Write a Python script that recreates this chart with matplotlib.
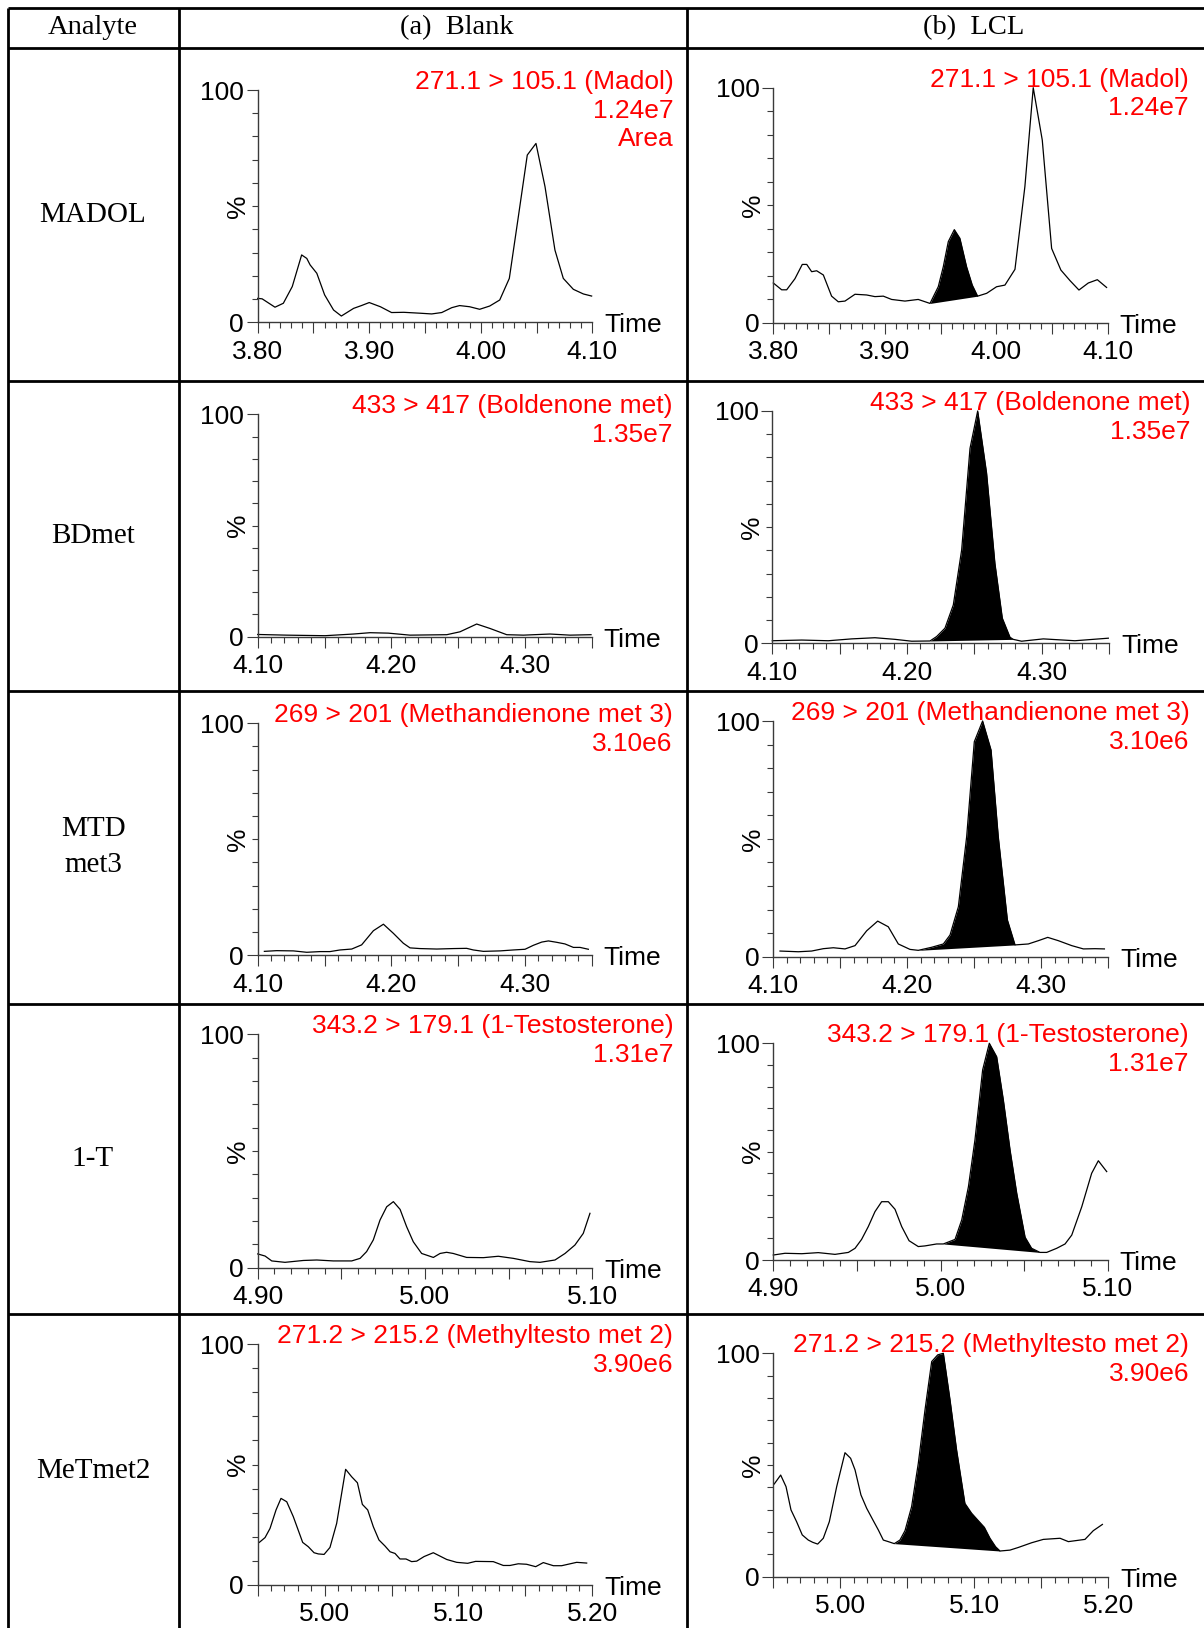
import numpy as np
import matplotlib
matplotlib.use('Agg')
import matplotlib.pyplot as plt
from matplotlib.ticker import FixedLocator, FuncFormatter

plt.rcParams['font.family'] = ['Liberation Sans', 'DejaVu Sans']

# ---- table text ----
headers = ['Analyte', '(a)  Blank', '(b)  LCL']
analytes = ['MADOL', 'BDmet', 'MTD\nmet3', '1-T', 'MeTmet2']
transitions = ['271.1 > 105.1 (Madol)', '433 > 417 (Boldenone met)',
               '269 > 201 (Methandienone met 3)', '343.2 > 179.1 (1-Testosterone)',
               '271.2 > 215.2 (Methyltesto met 2)']
intensities = ['1.24e7', '1.35e7', '3.10e6', '1.31e7', '3.90e6']
blank_extra = ['Area', '', '', '', '']
time_ranges = [(3.80, 4.10), (4.10, 4.35), (4.10, 4.35), (4.90, 5.10), (4.95, 5.20)]

# ---- chromatograms (time min, intensity %) ----
madol_blank_t = [3.800, 3.804, 3.8155, 3.823, 3.831, 3.8394, 3.844, 3.847, 3.853, 3.860, 3.868,
                 3.875, 3.886, 3.893, 3.900, 3.910, 3.920, 3.931, 3.946, 3.956, 3.965, 3.974,
                 3.981, 3.990, 3.999, 4.008, 4.017, 4.0256, 4.0337, 4.0417, 4.0495, 4.0576,
                 4.0665, 4.074, 4.083, 4.092, 4.0994]
madol_blank_y = [10.3, 10.1, 6.5, 8.2, 15.4, 29.0, 27.5, 24.7, 21.1, 11.8, 5.3, 2.7, 6.0, 7.2,
                 8.5, 6.7, 4.2, 4.3, 3.9, 3.6, 4.2, 6.3, 7.2, 6.7, 5.6, 7.0, 9.6, 18.9, 45.5,
                 72.0, 77.0, 58.4, 31.1, 18.9, 14.2, 12.2, 11.3]

madol_lcl_t = [3.800, 3.8075, 3.812, 3.8194, 3.826, 3.830, 3.8344, 3.8389, 3.8449, 3.8523,
               3.8583, 3.8643, 3.8733, 3.8837, 3.8912, 3.8987, 3.9061, 3.9181, 3.9300, 3.9406,
               3.948, 3.9525, 3.957, 3.9624, 3.9674, 3.9734, 3.9785, 3.9833, 3.9914, 4.0003,
               4.0078, 4.0168, 4.0257, 4.0332, 4.0413, 4.0497, 4.058, 4.0662, 4.0742, 4.0826,
               4.0907, 4.099]
madol_lcl_y = [16.9, 14.0, 14.0, 18.7, 24.8, 24.8, 21.7, 22.1, 20.3, 11.3, 8.9, 9.2, 12.1, 11.8,
               11.1, 11.3, 9.9, 9.2, 9.9, 8.2, 15.3, 23.8, 34.5, 39.6, 35.9, 23.8, 16.0, 11.3,
               12.5, 15.3, 16.0, 22.7, 57.9, 100.0, 77.7, 31.6, 22.4, 17.9, 13.9, 16.9, 18.3, 15.0]
madol_lcl_peak = (3.9406, 3.9833)

bd_blank_t = [4.100, 4.1217, 4.1504, 4.1716, 4.1841, 4.1978, 4.214, 4.2415, 4.2514, 4.2639,
              4.2739, 4.2864, 4.2989, 4.3188, 4.3338, 4.3495]
bd_blank_y = [1.0, 0.7, 0.45, 1.2, 1.8, 1.6, 0.7, 0.9, 2.2, 5.7, 3.7, 0.9, 0.7, 1.2, 0.7, 0.9]

bd_lcl_t = [4.100, 4.1218, 4.1416, 4.1589, 4.1762, 4.1911, 4.2035, 4.2171, 4.222, 4.2282,
            4.2344, 4.2406, 4.2468, 4.2525, 4.2591, 4.2653, 4.2708, 4.2765, 4.2789, 4.2851,
            4.3012, 4.3247, 4.3495]
bd_lcl_y = [1.1, 1.4, 1.1, 1.9, 2.4, 1.7, 0.9, 1.0, 2.9, 6.5, 16.5, 40.2, 83.9, 100.0, 73.3,
            34.4, 10.8, 2.6, 1.7, 0.9, 1.9, 1.1, 2.2]
bd_lcl_peak = (4.2171, 4.2789)

mtd_blank_t = [4.105, 4.1142, 4.1267, 4.1367, 4.1467, 4.1541, 4.1616, 4.1704, 4.1778, 4.1866,
               4.1941, 4.2015, 4.209, 4.214, 4.2215, 4.234, 4.2465, 4.2564, 4.2614, 4.2689,
               4.2814, 4.2914, 4.3001, 4.3063, 4.3126, 4.3176, 4.3238, 4.33, 4.3363, 4.3413,
               4.3475]
mtd_blank_y = [1.7, 2.0, 1.9, 1.3, 1.6, 1.6, 2.3, 2.7, 4.5, 10.6, 13.4, 9.5, 5.2, 3.2, 2.9,
               2.7, 2.9, 3.0, 2.3, 1.7, 1.9, 2.3, 2.6, 4.3, 5.7, 6.2, 5.6, 4.9, 3.4, 3.4, 2.6]

mtd_lcl_t = [4.105, 4.1187, 4.1286, 4.1373, 4.1448, 4.1535, 4.161, 4.1697, 4.1779, 4.1858,
             4.1933, 4.202, 4.2082, 4.2182, 4.2269, 4.2319, 4.2381, 4.2443, 4.25, 4.2562,
             4.2625, 4.2679, 4.2747, 4.2804, 4.2903, 4.2978, 4.3048, 4.3127, 4.3227, 4.3314,
             4.3401, 4.3471]
mtd_lcl_y = [2.4, 2.1, 2.4, 3.4, 3.8, 3.3, 4.7, 11.0, 15.1, 12.7, 5.4, 3.1, 2.7, 4.0, 5.4,
             9.2, 21.2, 50.9, 91.2, 100.0, 87.7, 50.9, 15.6, 5.0, 5.4, 6.8, 8.2, 6.8, 4.7,
             3.3, 3.4, 3.3]
mtd_lcl_peak = (4.2082, 4.2804)

t1_blank_t = [4.900, 4.9044, 4.9084, 4.9163, 4.9273, 4.9353, 4.9452, 4.9562, 4.9612, 4.9651,
              4.9691, 4.9731, 4.9771, 4.9811, 4.9851, 4.989, 4.993, 4.998, 5.005, 5.009,
              5.0129, 5.0169, 5.0249, 5.0349, 5.0438, 5.0528, 5.0627, 5.0687, 5.0777, 5.0837,
              5.0896, 5.0946, 5.0986]
t1_blank_y = [5.9, 5.0, 2.9, 2.3, 3.1, 3.3, 2.9, 2.9, 4.0, 6.9, 11.9, 20.4, 26.1, 28.3, 25.0,
              17.6, 11.1, 6.1, 4.4, 6.1, 6.6, 6.1, 4.4, 4.3, 4.9, 4.0, 2.6, 2.3, 3.3, 6.1,
              9.7, 14.7, 23.3]

t1_lcl_t = [4.900, 4.907, 4.917, 4.9269, 4.9369, 4.9449, 4.9489, 4.9528, 4.9568, 4.9608,
            4.9648, 4.9688, 4.9728, 4.9768, 4.9812, 4.9867, 4.9907, 4.9977, 5.0017, 5.0087,
            5.0127, 5.0167, 5.0206, 5.0252, 5.0292, 5.0336, 5.0376, 5.0416, 5.0456, 5.0506,
            5.0545, 5.0595, 5.0635, 5.0695, 5.0745, 5.0785, 5.0845, 5.0904, 5.0944, 5.0994]
t1_lcl_y = [2.3, 3.1, 2.9, 3.4, 2.6, 3.5, 5.4, 9.5, 15.4, 22.3, 26.9, 26.9, 23.4, 15.4, 8.9,
            6.2, 6.5, 7.4, 7.4, 9.5, 18.5, 33.8, 55.4, 87.7, 100.0, 93.8, 73.8, 50.8, 30.8,
            10.5, 5.4, 3.5, 3.5, 5.4, 7.4, 11.5, 24.6, 40.0, 45.8, 40.8]
t1_lcl_peak = (5.0017, 5.0595)

met_blank_t = [4.9512, 4.9555, 4.9592, 4.9637, 4.9674, 4.9717, 4.9766, 4.9836, 4.9878, 4.9921,
               4.9953, 4.9996, 5.004, 5.009, 5.0157, 5.0202, 5.0245, 5.0282, 5.0322, 5.0364,
               5.0406, 5.0451, 5.0489, 5.0526, 5.0563, 5.0608, 5.065, 5.0688, 5.0743, 5.0812,
               5.0912, 5.0987, 5.1069, 5.1128, 5.126, 5.1335, 5.1385, 5.1447, 5.1509, 5.1577,
               5.1634, 5.1709, 5.1771, 5.1883, 5.1958]
met_blank_y = [17.6, 19.6, 23.4, 31.1, 35.9, 34.5, 28.3, 17.6, 15.8, 13.3, 12.8, 12.6, 15.5,
               25.5, 48.0, 44.9, 42.4, 33.4, 31.1, 24.1, 18.6, 16.1, 13.7, 13.0, 10.7, 10.7,
               9.6, 9.8, 11.7, 13.3, 10.5, 9.3, 8.9, 9.7, 9.6, 8.0, 8.0, 8.7, 8.5, 7.5, 9.2,
               7.9, 7.9, 9.3, 9.0]

met_lcl_t = [4.9507, 4.9555, 4.9595, 4.9632, 4.9674, 4.9716, 4.9761, 4.9794, 4.9831, 4.9873,
             4.9918, 4.9973, 5.0035, 5.0077, 5.011, 5.0154, 5.0197, 5.0246, 5.0284, 5.0321,
             5.0358, 5.0403, 5.0445, 5.0483, 5.0532, 5.0582, 5.0632, 5.0682, 5.0727, 5.0769,
             5.0819, 5.0868, 5.093, 5.098, 5.1025, 5.1075, 5.1117, 5.1159, 5.1192, 5.1266,
             5.1329, 5.1428, 5.1515, 5.164, 5.1702, 5.1826, 5.1888, 5.1956]
met_lcl_y = [41.5, 45.5, 40.3, 29.9, 24.6, 18.7, 16.4, 15.4, 14.6, 17.2, 24.6, 40.3, 55.5,
             53.0, 47.8, 36.6, 30.6, 25.1, 20.9, 16.4, 15.7, 14.8, 16.4, 20.6, 31.3, 50.7,
             74.6, 96.3, 99.3, 100.0, 79.1, 56.7, 32.8, 28.4, 25.4, 22.1, 17.2, 13.4, 11.5,
             11.9, 13.1, 15.2, 16.7, 17.2, 15.7, 16.7, 20.6, 23.4]
met_lcl_peak = (5.0403, 5.1192)

blank_series = [(madol_blank_t, madol_blank_y), (bd_blank_t, bd_blank_y),
                (mtd_blank_t, mtd_blank_y), (t1_blank_t, t1_blank_y),
                (met_blank_t, met_blank_y)]
lcl_series = [(madol_lcl_t, madol_lcl_y, madol_lcl_peak), (bd_lcl_t, bd_lcl_y, bd_lcl_peak),
              (mtd_lcl_t, mtd_lcl_y, mtd_lcl_peak), (t1_lcl_t, t1_lcl_y, t1_lcl_peak),
              (met_lcl_t, met_lcl_y, met_lcl_peak)]

# ---- layout (pixels from the top-left corner) ----
W, H = 1204, 1628
col_x = [7.5, 179, 687]
row_y = [8, 48, 381, 691, 1004, 1314, 1628]
# axes boxes: x_left, x_right, y_of_100, y_of_0
blank_boxes = [(257.7, 592.3, 90, 322.3), (257.7, 591.7, 414.3, 636.7),
               (257.7, 591.7, 723.3, 955.3), (257.7, 592.3, 1034.3, 1267.7),
               (257.7, 592.3, 1344.3, 1584.7)]
lcl_boxes = [(773.3, 1107.7, 87.7, 322.7), (772.3, 1109, 411, 643.3),
             (773.3, 1108.3, 721, 956.7), (773.3, 1107.7, 1043.3, 1260),
             (773.3, 1108.3, 1353.3, 1576.7)]
axis_c = '#3a3a3a'
fs = 19

fig = plt.figure(figsize=(W / 100, H / 100), dpi=100)
bg = fig.add_axes([0, 0, 1, 1])
bg.set_xlim(0, W)
bg.set_ylim(H, 0)
bg.axis('off')

# table grid
for x in col_x:
    bg.plot([x, x], [row_y[0], H], color='black', lw=2, solid_capstyle='butt')
for y in row_y[:-1]:
    bg.plot([col_x[0], W], [y, y], color='black', lw=2, solid_capstyle='butt')

serif = 'Liberation Serif'
bg.text(93, 28, headers[0], ha='center', va='center', family=serif, fontsize=20.5)
bg.text(457, 28, headers[1], ha='center', va='center', family=serif, fontsize=20.5)
bg.text(974, 28, headers[2], ha='center', va='center', family=serif, fontsize=20.5)
for i, name in enumerate(analytes):
    bg.text(93, (row_y[i + 1] + row_y[i + 2]) / 2, name, ha='center', va='center',
            family=serif, fontsize=21, linespacing=1.5)


def label_fmt(v, pos):
    return f'{v:.2f}' if round(v * 100) % 10 == 0 else ''


def make_axes(box, t0, t1, label_lines):
    x0, x1, ytop, ybot = box
    ax = fig.add_axes([x0 / W, 1 - ybot / H, (x1 - x0) / W, (ybot - ytop) / H])
    ax.patch.set_visible(False)
    ax.set_xlim(t0, t1)
    ax.set_ylim(0, 100)
    for s in ['top', 'right']:
        ax.spines[s].set_visible(False)
    for s in ['left', 'bottom']:
        ax.spines[s].set_color(axis_c)
        ax.spines[s].set_linewidth(1.0)
    ax.xaxis.set_major_locator(FixedLocator(np.round(np.arange(t0, t1 + 1e-6, 0.05), 2)))
    ax.xaxis.set_minor_locator(FixedLocator(np.round(np.arange(t0, t1 + 1e-6, 0.01), 2)))
    ax.xaxis.set_major_formatter(FuncFormatter(label_fmt))
    ax.yaxis.set_major_locator(FixedLocator([0, 100]))
    ax.yaxis.set_minor_locator(FixedLocator(range(10, 100, 10)))
    ax.tick_params(which='major', length=8, width=0.8, color=axis_c, labelsize=fs)
    ax.tick_params(which='minor', length=4, width=0.8, color=axis_c)
    ax.tick_params(axis='x', which='major', pad=4.5)
    ax.tick_params(axis='y', which='major', pad=2)
    bg.text(x1 + 81, ytop - 20, '\n'.join([l for l in label_lines if l]), ha='right',
            va='top', color='red', fontsize=fs, linespacing=1.25)
    bg.text(x1 + 12, ybot + 3, 'Time', ha='left', va='center', fontsize=fs)
    bg.text(x0 - 20, (ytop + ybot) / 2, '%', ha='center', va='center', rotation=90,
            fontsize=fs)
    return ax


def shade_peak(ax, t, y, window):
    t = np.asarray(t)
    y = np.asarray(y)
    m = (t >= window[0] - 1e-9) & (t <= window[1] + 1e-9)
    ts, ys = t[m], y[m]
    base = np.interp(ts, [ts[0], ts[-1]], [ys[0], ys[-1]])
    ax.fill_between(ts, base, ys, color='black', lw=0)


for i in range(5):
    t0, t1 = time_ranges[i]
    ax = make_axes(blank_boxes[i], t0, t1, [transitions[i], intensities[i], blank_extra[i]])
    t, y = blank_series[i]
    ax.plot(t, y, color='black', lw=0.9, clip_on=False)

    ax = make_axes(lcl_boxes[i], t0, t1, [transitions[i], intensities[i]])
    t, y, peak = lcl_series[i]
    shade_peak(ax, t, y, peak)
    ax.plot(t, y, color='black', lw=0.9, clip_on=False)

fig.savefig('out.png', dpi=100)
